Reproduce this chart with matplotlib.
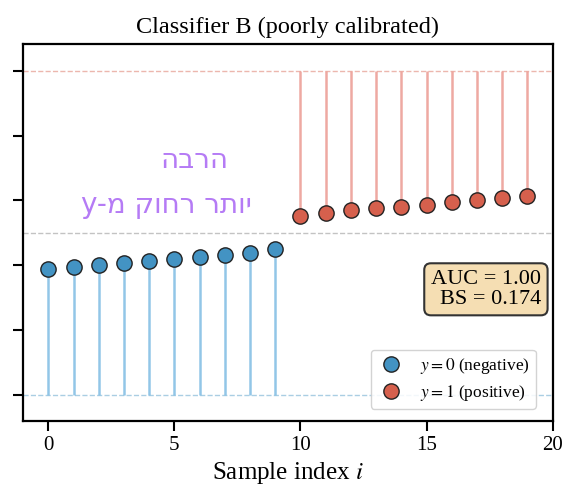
import numpy as np
import matplotlib
matplotlib.use("Agg")
import matplotlib.pyplot as plt

plt.rcParams['font.family'] = ['Liberation Serif', 'DejaVu Serif']
plt.rcParams['mathtext.fontset'] = 'stix'

# predicted probabilities
neg_idx = np.arange(0, 10)
neg_p = [0.387, 0.395, 0.400, 0.406, 0.413, 0.420, 0.424, 0.430, 0.437, 0.449]
pos_idx = np.arange(10, 20)
pos_p = [0.552, 0.562, 0.569, 0.576, 0.580, 0.587, 0.595, 0.600, 0.607, 0.613]

title = 'Classifier B (poorly calibrated)'
stats_text = 'AUC = 1.00\nBS = 0.174'
note_top = 'הרבה'
note_bottom = 'יותר רחוק מ-y'

blue = '#4393c3'
red = '#d6604d'

fig = plt.figure(figsize=(5.78, 4.91), dpi=100)
ax = fig.add_axes([0.040, 0.142, 0.916, 0.768])

# reference lines
ax.axhline(0, color=blue, ls='--', lw=1, alpha=0.45, zorder=1)
ax.axhline(1, color=red, ls='--', lw=1, alpha=0.45, zorder=1)
ax.axhline(0.5, color='#aaaaaa', ls='--', lw=1, alpha=0.7, zorder=1)

# stems toward the true label
ax.vlines(neg_idx, 0, neg_p, color='#7fbce3', lw=1.8, alpha=0.85, zorder=2)
ax.vlines(pos_idx, pos_p, 1, color='#ec9a92', lw=1.8, alpha=0.85, zorder=2)

ax.plot(neg_idx, neg_p, 'o', ms=11, color=blue, mec='#222222', mew=1,
        zorder=3, label='$y=0$ (negative)')
ax.plot(pos_idx, pos_p, 'o', ms=11, color=red, mec='#222222', mew=1,
        zorder=3, label='$y=1$ (positive)')

ax.set_xlim(-1, 20)
ax.set_ylim(-0.082, 1.082)
ax.set_xticks([0, 5, 10, 15, 20])
ax.set_yticks([0, 0.2, 0.4, 0.6, 0.8, 1.0])
ax.set_yticklabels([])
ax.tick_params(width=1.5, length=7, labelsize=15)
for s in ax.spines.values():
    s.set_linewidth(1.6)

ax.set_title(title, fontsize=17.5, pad=8)
ax.set_xlabel('Sample index $i$', fontsize=18, labelpad=4)

ax.text(0.978, 0.35, stats_text, transform=ax.transAxes, ha='right',
        va='center', fontsize=16, multialignment='right', linespacing=1.05,
        bbox=dict(boxstyle='round,pad=0.3', fc='#f5deb3', ec='#333333', lw=1.5))

ax.legend(loc='lower right', fontsize=12.5, framealpha=0.85, borderpad=0.35,
          handletextpad=0.9, handlelength=1.6, labelspacing=0.4,
          bbox_to_anchor=(0.985, 0.01))

# handwritten note (matplotlib has no bidi, so reverse for display)
ax.text(5.8, 0.725, note_top[::-1], color='#b57bf5', fontsize=20,
        family=['DejaVu Sans'], ha='center', va='center')
ax.text(4.7, 0.585, note_bottom[::-1], color='#b57bf5', fontsize=20,
        family=['DejaVu Sans'], ha='center', va='center')

fig.savefig('out.png', dpi=100)
